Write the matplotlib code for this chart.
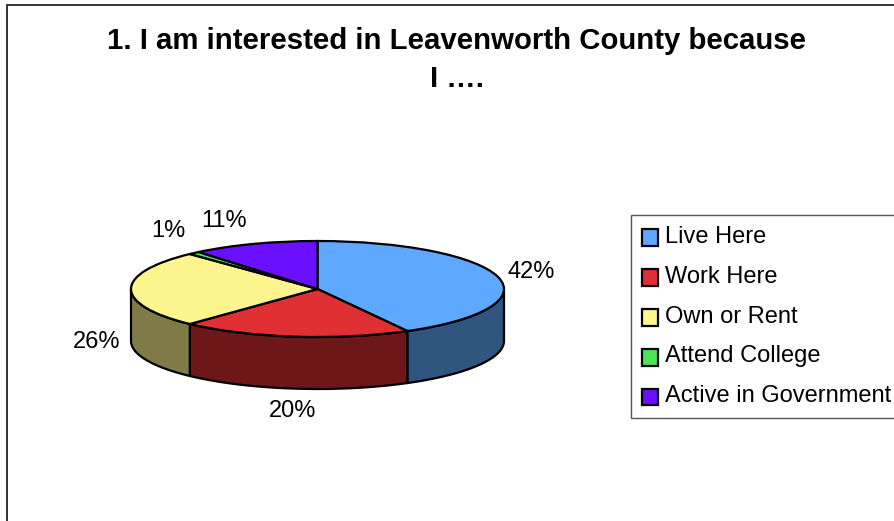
import numpy as np
import matplotlib
matplotlib.use('Agg')
import matplotlib.pyplot as plt
from matplotlib.patches import Rectangle

plt.rcParams['font.family'] = ['Liberation Sans', 'DejaVu Sans']

W, H = 895, 521

title = '1. I am interested in Leavenworth County because\nI ….'
categories = ['Live Here', 'Work Here', 'Own or Rent', 'Attend College', 'Active in Government']
values = [42, 20, 26, 1, 11]
top_colors = ['#5FA8FF', '#E03034', '#FFF58F', '#4FE35A', '#6A10FF']
side_colors = ['#30557F', '#6E1719', '#7F7A47', '#27712D', '#35087F']
# label centres in pixels, same order as the slices
label_pos = [(531, 272), (293, 411), (97, 342), (168, 231), (224, 221)]


def fx(x):
    return x / W


def fy(y):
    return 1 - y / H


fig = plt.figure(figsize=(W / 100, H / 100), dpi=100, facecolor='white')

# chart border, runs off the right and bottom
fig.add_artist(Rectangle((fx(7.5), fy(H + 10)), fx(W + 10), (H + 10 - 5) / H,
                         transform=fig.transFigure, fill=False,
                         edgecolor='#111111', linewidth=1.2))

# flattened pie: the axes box is the ellipse of the top face
left, right, top, bottom = 131, 504, 241, 337
ax = fig.add_axes([fx(left), fy(bottom), (right - left) / W, (bottom - top) / H])
wedges, _ = ax.pie(values, colors=top_colors, startangle=90, counterclock=False,
                   radius=1, wedgeprops={'edgecolor': 'black', 'linewidth': 1.6, 'zorder': 3})
for w in wedges:
    w.set_clip_on(False)
ax.set_aspect('auto')
ax.set_xlim(-1, 1)
ax.set_ylim(-1, 1)
ax.axis('off')

# side wall of the front half
depth = 52 / ((bottom - top) / 2)
edges = np.cumsum([0] + values) / sum(values) * 360
for i in range(len(values)):
    a0 = max(edges[i], 90)
    a1 = min(edges[i + 1], 270)
    if a1 <= a0:
        continue
    a = np.radians(np.linspace(a0, a1, 60))
    xs = np.sin(a)
    ys = np.cos(a)
    ax.fill(np.r_[xs, xs[::-1]], np.r_[ys, ys[::-1] - depth],
            facecolor=side_colors[i], edgecolor='black', linewidth=1.6,
            clip_on=False, zorder=2, joinstyle='round')

fig.text(fx(457), fy(60), title, ha='center', va='center', fontsize=21.2,
         fontweight='bold', color='black', linespacing=1.47)

for v, (x, y) in zip(values, label_pos):
    fig.text(fx(x), fy(y), f'{v}%', ha='center', va='center', fontsize=17, color='black')

leg = fig.legend(wedges, categories, loc='upper left',
                 bbox_to_anchor=(fx(631), fy(215)), borderaxespad=0,
                 fontsize=17, fancybox=False, framealpha=1,
                 edgecolor='#555555', borderpad=0.45, labelspacing=0.76,
                 handlelength=0.68, handleheight=0.7, handletextpad=0.3)
leg.get_frame().set_linewidth(1.0)
for h in leg.legend_handles:
    h.set_edgecolor('black')
    h.set_linewidth(1.6)
    # sit the swatches a little below the text centre
    h.set_y(h.get_y() - 2.2)

fig.savefig('out.png', dpi=100)
